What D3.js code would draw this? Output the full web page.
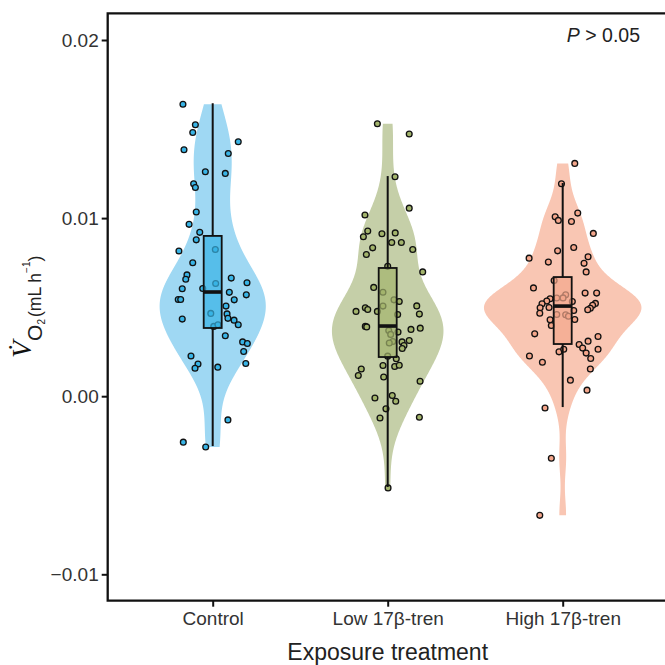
<!DOCTYPE html>
<html>
<head>
<meta charset="utf-8">
<script src="https://cdn.jsdelivr.net/npm/d3@7"></script>
<style>
  body { margin: 0; background: #fff; }
  svg { display: block; }
</style>
</head>
<body>
<svg class="chart_svg" width="665" height="665"></svg>
<script>
/* Groups and colours */
let groups = ["Control", "Low 17β-tren", "High 17β-tren"];
let violin_fill = ["#9fd8f3", "#c5cfa8", "#f9c6b3"];
let point_fill = ["#38b4e6", "#a3b46c", "#f4a68b"];

/* VO2 values (mL h-1) and horizontal jitter (fraction of category step) */
let control_vals = [0.01639,0.01524,0.01481,0.01429,0.01384,0.01363,0.01260,0.01251,0.01193,0.01172,0.01034,0.00965,0.00920,0.00878,0.00824,0.00815,0.00749,0.00681,0.00657,0.00663,0.00637,0.00633,0.00603,0.00605,0.00583,0.00569,0.00541,0.00543,0.00543,0.00506,0.00465,0.00462,0.00437,0.00433,0.00427,0.00401,0.00392,0.00401,0.00339,0.00305,0.00296,0.00251,0.00226,0.00184,0.00181,0.00157,0.00163,-0.00133,-0.00258,-0.00285];
let control_jitter = [-0.170,-0.099,-0.114,0.146,-0.164,0.089,-0.042,0.072,-0.109,-0.099,-0.094,-0.135,-0.074,-0.094,0.015,-0.193,-0.114,-0.147,-0.154,0.106,0.196,0.017,-0.174,-0.057,0.095,0.192,0.123,-0.197,-0.183,0.076,-0.011,0.082,0.087,-0.174,0.122,0.146,0.006,0.030,0.072,0.171,0.198,0.177,-0.124,0.189,-0.084,-0.101,0.029,0.087,-0.168,-0.040];

let low_vals = [0.01530,0.01472,0.01232,0.01056,0.01017,0.00927,0.00895,0.00912,0.00917,0.00863,0.00863,0.00833,0.00824,0.00796,0.00729,0.00698,0.00611,0.00584,0.00541,0.00532,0.00506,0.00476,0.00496,0.00487,0.00476,0.00507,0.00459,0.00461,0.00392,0.00389,0.00369,0.00360,0.00375,0.00382,0.00347,0.00307,0.00299,0.00305,0.00313,0.00285,0.00268,0.00225,0.00210,0.00172,0.00167,0.00174,0.00153,0.00116,0.00108,0.00084,-0.00010,0.00004,-0.00028,-0.00071,-0.00122,-0.00118,-0.00515];
let low_jitter = [-0.059,0.123,0.042,0.123,-0.130,-0.114,-0.139,-0.033,0.043,0.023,0.078,-0.086,0.143,-0.122,0,0.200,-0.080,-0.027,0.036,0.066,-0.027,-0.181,-0.128,-0.114,-0.059,0.166,0.057,0.181,-0.128,-0.120,0.006,0.059,0.133,0.186,0.017,0.029,0.009,0.082,0.123,0.093,0.083,0,0.049,-0.027,0.040,0.066,-0.151,-0.168,-0.023,0.185,-0.073,0.026,0.046,-0.010,-0.044,0.181,0.002];

let high_vals = [0.01307,0.01193,0.01028,0.01007,0.00987,0.00981,0.00914,0.00835,0.00816,0.00783,0.00775,0.00753,0.00746,0.00698,0.00650,0.00608,0.00579,0.00579,0.00569,0.00552,0.00551,0.00547,0.00534,0.00519,0.00532,0.00521,0.00511,0.00496,0.00498,0.00494,0.00485,0.00466,0.00481,0.00459,0.00457,0.00449,0.00431,0.00429,0.00397,0.00350,0.00335,0.00309,0.00290,0.00270,0.00264,0.00242,0.00249,0.00264,0.00226,0.00212,0.00191,0.00153,0.00090,0.00034,-0.00066,-0.00348,-0.00669];
let high_jitter = [0.069,-0.007,0.086,-0.043,-0.025,0.050,0.175,0.063,-0.029,0.145,-0.192,-0.082,0.122,0.134,-0.049,-0.167,0.128,0.194,0.017,0.002,-0.034,-0.072,-0.091,-0.118,0.055,0.187,0.171,-0.129,-0.078,0.158,0.143,-0.131,0.063,-0.034,0.017,0.033,0.069,-0.072,-0.065,-0.160,0.202,0.145,0.094,0.114,0.202,0.134,-0.021,0.006,-0.190,0.160,-0.116,0.158,0.044,0.139,-0.101,-0.065,-0.131];

/* Box plot stats */
let box_q1 = [0.00383, 0.00220, 0.00293];
let box_med = [0.00585, 0.00394, 0.00506];
let box_q3 = [0.00900, 0.00720, 0.00669];
let whisker_lo = [-0.00280, -0.00510, -0.00061];
let whisker_hi = [0.01645, 0.01236, 0.01197];

let y_ticks = [-0.01, 0, 0.01, 0.02];
let y_domain = [-0.01, 0.02];
let p_label = "0.05";

let all_vals = [control_vals, low_vals, high_vals];
let all_jitter = [control_jitter, low_jitter, high_jitter];

let svg = d3.select("svg.chart_svg");
let panel = {left: 107.7, top: 13.3, bottom: 600.7, right: 667.7};
let sans = "'Liberation Sans', Arial, Helvetica, sans-serif";

let x = d3.scalePoint().domain(groups).range([panel.left, panel.right]).padding(0.6);
let y = d3.scaleLinear().domain(y_domain).range([574.3, 40]);
let step = x.step();

/* gaussian kernel density, bandwidth as R's bw.nrd0 */
function nrd0(vals) {
    let sorted = vals.slice().sort(d3.ascending);
    let sd = d3.deviation(sorted);
    let iqr = d3.quantile(sorted, 0.75) - d3.quantile(sorted, 0.25);
    let lo = Math.min(sd, iqr / 1.34);
    return 0.9 * lo * Math.pow(sorted.length, -0.2);
}

function density(vals) {
    let bw = nrd0(vals);
    let lo = d3.min(vals), hi = d3.max(vals);
    let grid = d3.range(512).map(function(i){ return lo + (hi - lo) * i / 511; });
    return grid.map(function(v){
        let s = d3.sum(vals, function(d){
            let u = (v - d) / bw;
            return Math.exp(-0.5 * u * u);
        });
        return {v: v, d: s / (vals.length * bw * Math.sqrt(2 * Math.PI))};
    });
}

let dens = all_vals.map(density);
let max_dens = d3.max(dens, function(g){ return d3.max(g, function(p){ return p.d; }); });
let half_w = d3.scaleLinear().domain([0, max_dens]).range([0, step * 0.45]);

/* Violins */
let violin_g = svg.append("g");
groups.forEach(function(g, i){
    let cx = x(g);
    let area = d3.area()
        .y(function(p){ return y(p.v); })
        .x0(function(p){ return cx - half_w(p.d); })
        .x1(function(p){ return cx + half_w(p.d); });
    violin_g.append("path").datum(dens[i]).attr("d", area).attr("fill", violin_fill[i]);
});

/* Jittered points */
let points_g = svg.append("g");
groups.forEach(function(g, i){
    let pts = all_vals[i].map(function(v, k){ return {v: v, j: all_jitter[i][k]}; });
    points_g.selectAll("circle.g" + i)
        .data(pts)
        .enter()
        .append("circle")
        .attr("class", "g" + i)
        .attr("cx", function(d){ return x(g) + d.j * step; })
        .attr("cy", function(d){ return y(d.v); })
        .attr("r", 2.9)
        .attr("fill", point_fill[i])
        .attr("stroke", "#111")
        .attr("stroke-width", 1.3);
});

/* Box plots */
let box_w = 18;
let box_g = svg.append("g");
groups.forEach(function(g, i){
    let cx = x(g);
    box_g.append("line")
        .attr("x1", cx).attr("x2", cx)
        .attr("y1", y(box_q3[i])).attr("y2", y(whisker_hi[i]))
        .attr("stroke", "#111").attr("stroke-width", 2);
    box_g.append("line")
        .attr("x1", cx).attr("x2", cx)
        .attr("y1", y(box_q1[i])).attr("y2", y(whisker_lo[i]))
        .attr("stroke", "#111").attr("stroke-width", 2);
    box_g.append("rect")
        .attr("x", cx - box_w / 2)
        .attr("y", y(box_q3[i]))
        .attr("width", box_w)
        .attr("height", y(box_q1[i]) - y(box_q3[i]))
        .attr("fill", point_fill[i])
        .attr("fill-opacity", 0.7)
        .attr("stroke", "#111")
        .attr("stroke-width", 1.8);
    box_g.append("line")
        .attr("x1", cx - box_w / 2).attr("x2", cx + box_w / 2)
        .attr("y1", y(box_med[i])).attr("y2", y(box_med[i]))
        .attr("stroke", "#111").attr("stroke-width", 3.6);
});

/* Axes */
let fmt = d3.format(".2f");
let y_axis = svg.append("g")
    .attr("transform", "translate(" + panel.left + ",0)")
    .call(d3.axisLeft(y).tickValues(y_ticks).tickSize(6).tickPadding(3).tickFormat(fmt));
let x_axis = svg.append("g")
    .attr("transform", "translate(0," + panel.bottom + ")")
    .call(d3.axisBottom(x).tickSize(6).tickPadding(5));

[y_axis, x_axis].forEach(function(ax){
    ax.select(".domain").remove();
    ax.selectAll(".tick line").attr("stroke", "#111").attr("stroke-width", 2);
    ax.selectAll(".tick text")
        .attr("fill", "#333")
        .style("font-family", sans)
        .style("font-size", "19px");
});

/* Panel border (right side runs off the picture) */
svg.append("path")
    .attr("d", "M" + (panel.right + 10) + "," + panel.top + "H" + panel.left + "V" + panel.bottom + "H" + (panel.right + 10))
    .attr("fill", "none")
    .attr("stroke", "#111")
    .attr("stroke-width", 2.3);

/* Axis titles */
svg.append("text")
    .attr("x", x(groups[1]))
    .attr("y", 660)
    .attr("text-anchor", "middle")
    .attr("fill", "#222")
    .style("font-family", sans)
    .style("font-size", "23px")
    .text("Exposure treatment");

let ylab = svg.append("text")
    .attr("transform", "rotate(-90)")
    .attr("x", -358)
    .attr("y", 31)
    .attr("fill", "#111")
    .style("font-family", sans);
ylab.append("tspan").text("V\u0307")
    .style("font-family", "'Liberation Serif', 'Times New Roman', serif")
    .style("font-style", "italic")
    .style("font-size", "28px");
ylab.append("tspan").text("O").attr("fill", "#222").style("font-size", "21px").attr("dy", 11);
ylab.append("tspan").text("2").attr("fill", "#222").style("font-size", "10px").attr("dy", 3);
ylab.append("tspan").text("(mL h").attr("fill", "#222").style("font-size", "17.5px").attr("dy", -4).attr("dx", 2);
ylab.append("tspan").text("\u22121").attr("fill", "#222").style("font-size", "10px").attr("dy", -11);
ylab.append("tspan").text(")").attr("fill", "#222").style("font-size", "17.5px").attr("dy", 11);

/* P value annotation */
let ptxt = svg.append("text")
    .attr("x", 640)
    .attr("y", 42)
    .attr("text-anchor", "end")
    .attr("fill", "#222")
    .style("font-family", sans)
    .style("font-size", "19.5px");
ptxt.append("tspan").text("P").style("font-style", "italic");
ptxt.append("tspan").text(" > " + p_label);
</script>
</body>
</html>
